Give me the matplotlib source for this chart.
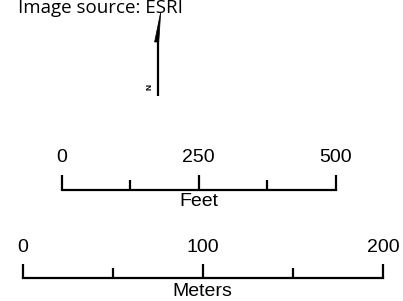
import matplotlib
matplotlib.use('Agg')
import matplotlib.pyplot as plt
from matplotlib.patches import Polygon

# scale bar definitions
feet_ticks = [0, 125, 250, 375, 500]
feet_labels = [0, 250, 500]
feet_unit = 'Feet'

meter_ticks = [0, 50, 100, 150, 200]
meter_labels = [0, 100, 200]
meter_unit = 'Meters'

source_text = 'Image source: ESRI'

W, H = 403, 301
fig = plt.figure(figsize=(W / 100, H / 100), dpi=100)

# base axes in pixel coordinates for text and north arrow
ax = fig.add_axes([0, 0, 1, 1])
ax.set_xlim(0, W)
ax.set_ylim(H, 0)
ax.axis('off')

ax.text(18, 13, source_text, fontsize=13.5, family='Open Sans',
        va='baseline', ha='left', color='black')

# north arrow
ax.plot([158, 158], [41, 96], color='black', lw=1.6, solid_capstyle='butt')
ax.add_patch(Polygon([(160.7, 12), (154.6, 42), (158.8, 42)], closed=True,
                     facecolor='black', edgecolor='black', lw=0.5))
ax.text(149.5, 87, 'N', fontsize=6, fontweight='bold', rotation=90,
        ha='center', va='center', family='Liberation Sans')


def scale_bar(x0, x1, ticks, labels, unit, y_line, y_major, y_minor, y_lab, y_unit):
    bx = fig.add_axes([x0 / W, 0, (x1 - x0) / W, 1])
    bx.set_xlim(ticks[0], ticks[-1])
    bx.set_ylim(H, 0)
    bx.axis('off')
    bx.patch.set_alpha(0)
    kw = dict(color='black', lw=1.6, clip_on=False)
    bx.plot([ticks[0], ticks[-1]], [y_line, y_line], solid_capstyle='projecting', **kw)
    for t in ticks:
        top = y_major if t in labels else y_minor
        bx.plot([t, t], [y_line, top], solid_capstyle='butt', **kw)
    for v in labels:
        bx.text(v, y_lab, str(v), fontsize=14, family='Liberation Sans',
                ha='center', va='center', clip_on=False)
    mid = (ticks[0] + ticks[-1]) / 2
    bx.text(mid, y_unit, unit, fontsize=14, family='Liberation Sans',
            ha='center', va='center', clip_on=False)


scale_bar(62, 335.5, feet_ticks, feet_labels, feet_unit,
          189.5, 175, 180, 157.5, 202)
scale_bar(22.5, 383, meter_ticks, meter_labels, meter_unit,
          277.5, 263.5, 268, 247.5, 291)

fig.savefig('out.png', dpi=100)
